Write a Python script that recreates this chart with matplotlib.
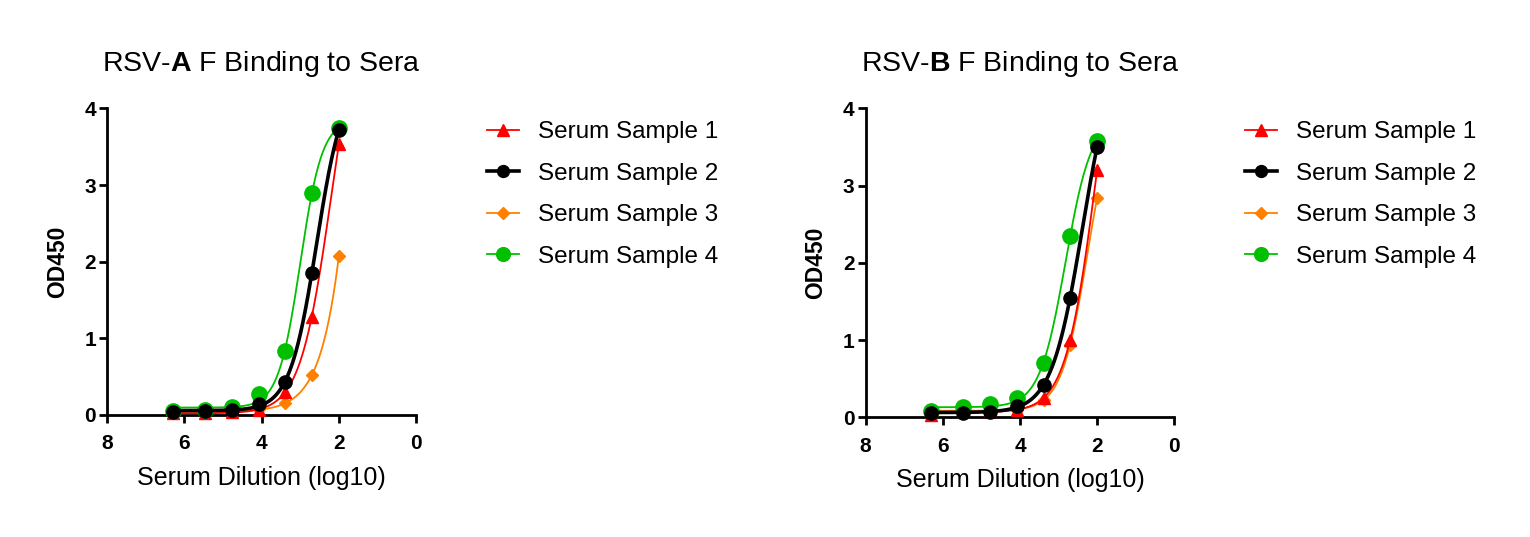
import numpy as np
import matplotlib
matplotlib.use('Agg')
import matplotlib.pyplot as plt
from matplotlib import rcParams

rcParams['font.family'] = ['Liberation Sans', 'DejaVu Sans']
rcParams['mathtext.fontset'] = 'custom'
rcParams['mathtext.rm'] = 'Liberation Sans'
rcParams['mathtext.bf'] = 'Liberation Sans:bold'

# serum dilution (log10), same for both panels
dilution = [6.30, 5.48, 4.78, 4.08, 3.39, 2.70, 2.00]

samples = ['Serum Sample 1', 'Serum Sample 2', 'Serum Sample 3', 'Serum Sample 4']

# RSV-A F, OD450
rsva_s1 = [0.02, 0.02, 0.04, 0.07, 0.30, 1.28, 3.53]
rsva_s2 = [0.045, 0.05, 0.07, 0.14, 0.43, 1.85, 3.72]
rsva_s3 = [0.03, 0.04, 0.05, 0.08, 0.15, 0.52, 2.07]
rsva_s4 = [0.05, 0.065, 0.11, 0.27, 0.84, 2.90, 3.74]

# RSV-B F, OD450
rsvb_s1 = [0.03, 0.08, 0.09, 0.10, 0.25, 1.00, 3.20]
rsvb_s2 = [0.06, 0.06, 0.07, 0.14, 0.42, 1.55, 3.50]
rsvb_s3 = [0.05, 0.10, 0.11, 0.10, 0.22, 0.94, 2.84]
rsvb_s4 = [0.08, 0.13, 0.17, 0.25, 0.70, 2.35, 3.58]

colors = ['#ff0000', '#000000', '#ff8000', '#00c000']
markers = ['^', 'o', 'D', 'o']
msizes = [9, 9.5, 6.5, 11]
lwidths = [1.3, 2.6, 1.3, 1.3]
zorders = [4, 6, 3, 5]


def fit_4pl(x, y):
    # least squares 4PL on a grid of (logEC50, hill), bottom/top solved linearly
    x = np.asarray(x); y = np.asarray(y)
    c = np.linspace(0.5, 5.0, 451)[:, None, None]
    h = np.linspace(0.4, 4.0, 361)[None, :, None]
    F = 1.0 / (1.0 + 10 ** (h * (x[None, None, :] - c)))
    Fm = F.mean(axis=2, keepdims=True)
    ym = y.mean()
    slope = ((F - Fm) * (y - ym)).sum(axis=2, keepdims=True) / ((F - Fm) ** 2).sum(axis=2, keepdims=True)
    icpt = ym - slope * Fm
    sse = ((icpt + slope * F - y) ** 2).sum(axis=2)
    i, j = np.unravel_index(np.argmin(sse), sse.shape)
    return c[i, 0, 0], h[0, j, 0], icpt[i, j, 0], slope[i, j, 0]


def panel(ax, series, letter):
    xx = np.linspace(max(dilution), min(dilution), 300)
    for k, y in enumerate(series):
        c, h, b, s = fit_4pl(dilution, y)
        yy = b + s / (1.0 + 10 ** (h * (xx - c)))
        ax.plot(xx, yy, color=colors[k], lw=lwidths[k], zorder=zorders[k], clip_on=False)
        ax.plot(dilution, y, linestyle='none', marker=markers[k], ms=msizes[k],
                color=colors[k], zorder=zorders[k], clip_on=False)
        # legend proxy
        ax.plot([], [], color=colors[k], lw=lwidths[k], marker=markers[k],
                ms=msizes[k] * 0.9, label=samples[k])
    ax.set_xlim(8, 0)
    ax.set_ylim(0, 4)
    ax.set_xticks([8, 6, 4, 2, 0])
    ax.set_yticks([0, 1, 2, 3, 4])
    for sp in ['top', 'right']:
        ax.spines[sp].set_visible(False)
    for sp in ['left', 'bottom']:
        ax.spines[sp].set_linewidth(2.0)
    ax.tick_params(width=2.0, length=6, labelsize=15)
    ax.tick_params(axis='x', pad=8)
    ax.tick_params(axis='y', pad=2)
    for lab in ax.get_xticklabels() + ax.get_yticklabels():
        lab.set_fontweight('bold')
    ax.set_xlabel('Serum Dilution (log10)', fontsize=18, labelpad=9)
    ax.set_ylabel('OD450', fontsize=16.5, fontweight='bold', labelpad=11)
    ax.set_title('RSV-$\\bf{' + letter + '}$ F Binding to Sera', fontsize=20.5, pad=27)
    ax.legend(loc='upper left', bbox_to_anchor=(1.199, 0.99), frameon=False,
              fontsize=17.5, handlelength=1.3, handletextpad=0.8, labelspacing=0.8,
              borderaxespad=0)


fig = plt.figure(figsize=(15.3, 5.37), dpi=100)
ax1 = fig.add_axes([0.0701, 0.2272, 0.2018, 0.5710])
ax2 = fig.add_axes([0.5658, 0.2229, 0.2017, 0.5754])

panel(ax1, [rsva_s1, rsva_s2, rsva_s3, rsva_s4], 'A')
panel(ax2, [rsvb_s1, rsvb_s2, rsvb_s3, rsvb_s4], 'B')

fig.savefig('out.png', dpi=100)
